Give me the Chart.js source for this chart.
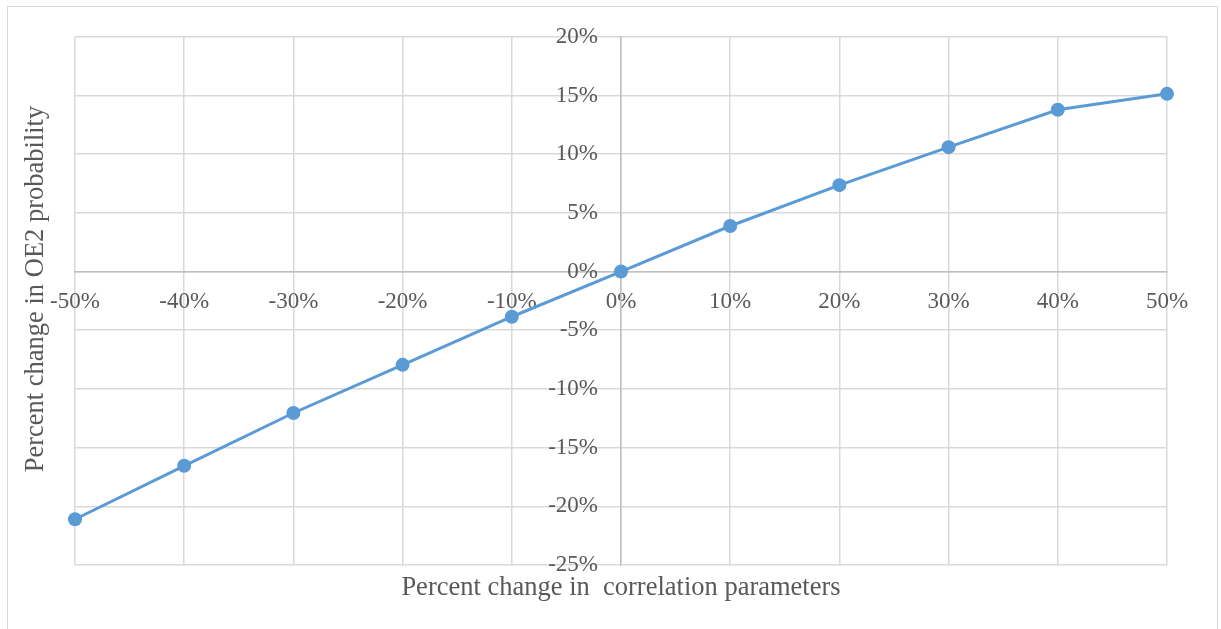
<!DOCTYPE html>
<html>
<head>
<meta charset="utf-8">
<script src="https://cdn.jsdelivr.net/npm/chart.js@4/dist/chart.umd.min.js"></script>
<style>
  html, body { margin: 0; padding: 0; background: #ffffff; overflow: hidden; }
  #frame {
    position: absolute; left: 7px; top: 6px; width: 1211px; height: 640px;
    border: 1px solid #d9d9d9; box-sizing: border-box;
  }
  #wrap { position: absolute; left: 0; top: 0; width: 1221px; height: 629px; }
</style>
</head>
<body>
<div id="frame"></div>
<div id="wrap"><canvas id="chart" width="1221" height="629"></canvas></div>
<script>
// Percent change in correlation parameters (x) and resulting change in OE2 probability (y)
const paramChange = [-50, -40, -30, -20, -10, 0, 10, 20, 30, 40, 50];
const probChange = [-21.1, -16.55, -12.05, -7.95, -3.85, 0, 3.88, 7.36, 10.6, 13.78, 15.14];

const xTitle = 'Percent change in  correlation parameters';
const yTitle = 'Percent change in OE2 probability';

const textColor = '#595959';
const fontFamily = '"Liberation Serif", "Times New Roman", serif';

// Axis titles sit at the outer edges while the axes cross at zero
const axisTitles = {
  id: 'axisTitles',
  afterDraw(chart) {
    const { ctx, chartArea } = chart;
    ctx.save();
    ctx.fillStyle = textColor;
    ctx.font = '26.5px ' + fontFamily;
    ctx.textAlign = 'center';
    ctx.textBaseline = 'alphabetic';
    ctx.fillText(xTitle, (chartArea.left + chartArea.right) / 2, 595);
    ctx.translate(43, 289);
    ctx.rotate(-Math.PI / 2);
    ctx.fillText(yTitle, 0, 0);
    ctx.restore();
  }
};

new Chart(document.getElementById('chart'), {
  type: 'line',
  data: {
    datasets: [{
      data: paramChange.map((x, i) => ({ x: x, y: probChange[i] })),
      borderColor: '#5b9bd5',
      backgroundColor: '#5b9bd5',
      borderWidth: 3,
      pointRadius: 7,
      pointHoverRadius: 7,
      pointBorderWidth: 0,
      tension: 0,
      clip: false
    }]
  },
  options: {
    responsive: false,
    animation: false,
    layout: { padding: { left: 75, top: 35, right: 54, bottom: 64 } },
    plugins: { legend: { display: false }, tooltip: { enabled: false } },
    scales: {
      x: {
        type: 'linear',
        position: { y: 0 },
        min: -50, max: 50,
        grid: { color: '#d9d9d9', lineWidth: 1.5, drawTicks: false },
        border: { color: '#bfbfbf', width: 1.5 },
        ticks: {
          stepSize: 10, padding: 17, color: textColor,
          font: { family: fontFamily, size: 23 },
          callback: v => v + '%'
        }
      },
      y: {
        type: 'linear',
        position: 'center',
        min: -25, max: 20,
        grid: { color: '#d9d9d9', lineWidth: 1.5, drawTicks: false },
        border: { color: '#bfbfbf', width: 1.5 },
        ticks: {
          stepSize: 5, padding: 23, color: textColor,
          font: { family: fontFamily, size: 23 },
          callback: v => v + '%'
        }
      }
    }
  },
  plugins: [axisTitles]
});
</script>
</body>
</html>
